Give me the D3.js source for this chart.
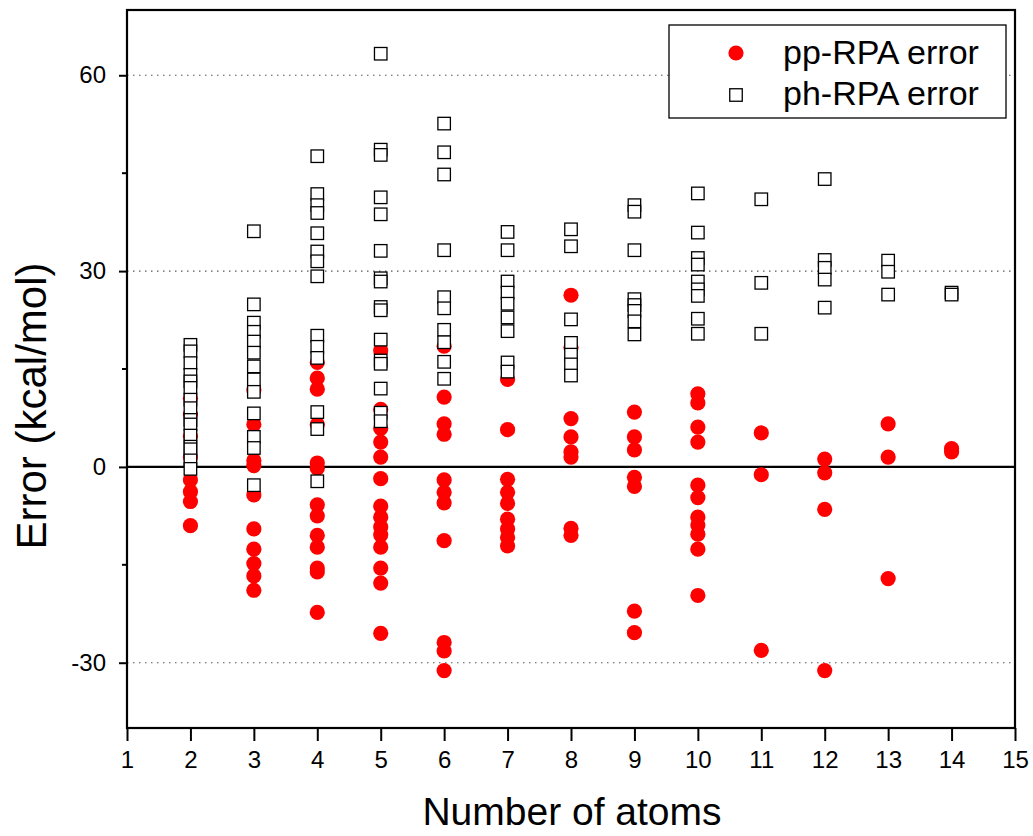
<!DOCTYPE html>
<html lang="en">
<head>
  <meta charset="UTF-8">
  <title>pp-RPA vs ph-RPA error</title>
  <script src="https://d3js.org/d3.v7.min.js"></script>
  <style>
  body { margin: 0; background: #fff; }
  text { font-family: "Liberation Sans", Arial, sans-serif; }
  </style>
</head>
<body>
<div id="chart"></div>
<script>

// x categories (number of atoms)
const atoms = [2, 3, 4, 5, 6, 7, 8, 9, 10, 11, 12, 13, 14];

// pp-RPA error per number of atoms (kcal/mol)
const ppErr = [
  [10.5, 8, 4.7, 1.5, -2, -3.8, -5.3, -9],
  [11.8, 6.5, 1, 0.2, -4.3, -9.5, -12.6, -14.8, -16.7, -18.9],
  [16, 13.6, 11.9, 6.5, 0.6, -0.2, -5.8, -7.5, -10.5, -12.3, -15.5, -16.1, -22.3],
  [17.8, 8.8, 5.9, 3.8, 1.5, -1.8, -6, -7.7, -9.2, -10.4, -12.3, -15.5, -17.8, -25.5],
  [18.5, 10.7, 6.6, 5, -2, -3.9, -5.5, -11.3, -26.9, -28.2, -31.2],
  [13.4, 5.7, -1.9, -3.9, -5.6, -8, -9.5, -10.8, -12.1],
  [26.3, 18.3, 7.4, 4.6, 2.3, 1.5, -9.4, -10.5],
  [8.4, 4.6, 2.6, -1.6, -3, -22.1, -25.4],
  [11.2, 9.8, 6.1, 3.8, -2.8, -4.7, -7.7, -8.9, -10.3, -12.6, -19.7],
  [5.2, -1.2, -28.1],
  [1.2, -0.9, -6.5, -31.2],
  [6.6, 1.5, -17.1],
  [2.8, 2.3]
];

// ph-RPA error per number of atoms (kcal/mol)
const phErr = [
  [18.7, 17.7, 15.9, 14.1, 13.1, 12.1, 10.3, 9.0, 7.2, 6.5, 4.8, 3.1, 2.7, 1.0, -0.3],
  [36.1, 24.9, 22.1, 20.7, 19.2, 17.5, 15.4, 13.4, 11.5, 8.2, 4.6, 2.9, -2.8],
  [47.6, 41.8, 40.1, 38.9, 35.8, 33, 31.5, 29.2, 20.1, 18.4, 16.7, 8.4, 5.8, -2.2],
  [63.3, 48.6, 47.8, 41.3, 38.7, 33.1, 28.9, 28.4, 24.5, 24, 19.5, 16.3, 15.8, 12, 8.3, 7],
  [52.6, 48.2, 44.8, 33.2, 26, 24.3, 21, 19.1, 16.1, 13.5],
  [36, 33.2, 28.4, 26.7, 25, 22.9, 20.8, 16, 14.6],
  [36.4, 33.8, 22.6, 19, 17.2, 15.7, 14],
  [40.1, 39.1, 33.2, 25.7, 24.8, 23.9, 22.3, 20.3],
  [41.9, 35.9, 32, 31, 28.4, 27.2, 26.2, 22.7, 20.4],
  [41, 28.2, 20.4],
  [44.1, 31.7, 30.5, 28.7, 24.4],
  [31.6, 29.9, 26.4],
  [26.7, 26.4]
];

const xTicks = d3.range(1, 16);
const yMajor = [-30, 0, 30, 60];
const yMinor = [-15, 15, 45];
const gridVals = [-30, 30, 60];
const legendLabels = ["pp-RPA error", "ph-RPA error"];

const width = 1033, height = 836;
const margin = {top: 10, right: 18, bottom: 108, left: 127};
const gw = width - margin.left - margin.right;
const gh = height - margin.top - margin.bottom;

const svg = d3.select("#chart").append("svg")
  .attr("width", width)
  .attr("height", height);

const graph = svg.append("g")
  .attr("transform", `translate(${margin.left},${margin.top})`);

const x = d3.scaleLinear().domain([1, 15]).range([0, gw]);
const y = d3.scaleLinear().domain([-40, 70]).range([gh, 0]);

// dotted grid lines
graph.selectAll(".grid")
  .data(gridVals)
  .enter().append("line")
    .attr("x1", 0).attr("x2", gw)
    .attr("y1", d => y(d)).attr("y2", d => y(d))
    .attr("stroke", "#555")
    .attr("stroke-width", 1.2)
    .attr("stroke-dasharray", "1.5,4.5");

// zero line
graph.append("line")
  .attr("x1", 0).attr("x2", gw)
  .attr("y1", y(0)).attr("y2", y(0))
  .attr("stroke", "#000")
  .attr("stroke-width", 2.2);

// flatten data
const pp = [], ph = [];
atoms.forEach((a, i) => {
  ppErr[i].forEach(v => pp.push({n: a, v: v}));
  phErr[i].forEach(v => ph.push({n: a, v: v}));
});

graph.selectAll(".pp")
  .data(pp)
  .enter().append("circle")
    .attr("class", "pp")
    .attr("cx", d => x(d.n))
    .attr("cy", d => y(d.v))
    .attr("r", 7.6)
    .attr("fill", "#ff0000");

const sq = 12.5;
graph.selectAll(".ph")
  .data(ph)
  .enter().append("rect")
    .attr("class", "ph")
    .attr("x", d => x(d.n) - sq / 2)
    .attr("y", d => y(d.v) - sq / 2)
    .attr("width", sq)
    .attr("height", sq)
    .attr("fill", "#fff")
    .attr("stroke", "#000")
    .attr("stroke-width", 1.3);

// axes
const xAxis = d3.axisBottom(x)
  .tickValues(xTicks)
  .tickSize(13)
  .tickSizeOuter(0)
  .tickPadding(10)
  .tickFormat(d3.format("d"));

const xg = graph.append("g")
  .attr("transform", `translate(0,${gh})`)
  .call(xAxis);
xg.select(".domain").remove();
xg.selectAll("line").attr("stroke-width", 2);
xg.selectAll("text")
  .attr("font-size", 24)
  .attr("font-family", "'Liberation Sans', Arial, sans-serif");

const yAxis = d3.axisLeft(y)
  .tickValues(yMajor)
  .tickSize(8)
  .tickSizeOuter(0)
  .tickPadding(13)
  .tickFormat(d => String(d));

const yg = graph.append("g").call(yAxis);
yg.select(".domain").remove();
yg.selectAll("line").attr("stroke-width", 2);
yg.selectAll("text")
  .attr("font-size", 24)
  .attr("font-family", "'Liberation Sans', Arial, sans-serif");

graph.selectAll(".minor")
  .data(yMinor)
  .enter().append("line")
    .attr("x1", -5).attr("x2", 0)
    .attr("y1", d => y(d)).attr("y2", d => y(d))
    .attr("stroke", "#000")
    .attr("stroke-width", 2);

// frame
graph.append("rect")
  .attr("x", 0).attr("y", 0)
  .attr("width", gw).attr("height", gh)
  .attr("fill", "none")
  .attr("stroke", "#000")
  .attr("stroke-width", 2.2);

// axis titles
svg.append("text")
  .attr("x", 572)
  .attr("y", 825)
  .attr("text-anchor", "middle")
  .attr("font-size", 39)
  .text("Number of atoms");

svg.append("text")
  .attr("transform", "translate(46,406) rotate(-90)")
  .attr("text-anchor", "middle")
  .attr("font-size", 42)
  .text("Error (kcal/mol)");

// legend
const legend = svg.append("g");
legend.append("rect")
  .attr("x", 669).attr("y", 25)
  .attr("width", 337).attr("height", 93)
  .attr("fill", "#fff")
  .attr("stroke", "#000")
  .attr("stroke-width", 1.3);

legend.append("circle")
  .attr("cx", 736).attr("cy", 53)
  .attr("r", 7.6)
  .attr("fill", "#ff0000");

legend.append("rect")
  .attr("x", 736 - sq / 2).attr("y", 95 - sq / 2)
  .attr("width", sq).attr("height", sq)
  .attr("fill", "#fff")
  .attr("stroke", "#000")
  .attr("stroke-width", 1.3);

legend.selectAll(".lt")
  .data(legendLabels)
  .enter().append("text")
    .attr("x", 783)
    .attr("y", (d, i) => 64 + i * 41)
    .attr("font-size", 34)
    .text(d => d);

</script>
</body>
</html>
